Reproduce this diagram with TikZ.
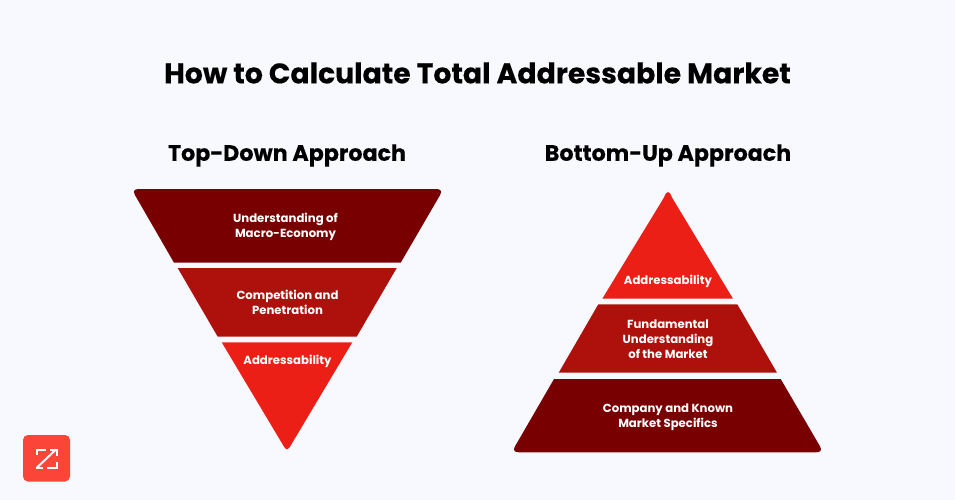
\documentclass[tikz,border=0pt]{standalone}
\usepackage{fontspec}
\setmainfont{Poppins}
\newfontfamily\headfont{Poppins}[BoldFeatures={FakeBold=0.2}]
\usetikzlibrary{positioning}
\definecolor{bgblue}{HTML}{F7F9FF}
\definecolor{darkband}{HTML}{780000}
\definecolor{midband}{HTML}{AE100B}
\definecolor{redband}{HTML}{EC1F17}
\definecolor{logored}{HTML}{FC4539}
\tikzset{
  bandlabel/.style = {text = white, align = center, font = \fontsize{11.7}{15}\selectfont\bfseries, inner sep = 0pt},
  headlabel/.style = {text = black, font = \headfont\fontsize{22.2}{27}\selectfont\bfseries, inner sep = 0pt},
  logoline/.style = {white, line width = 2pt}
}
\begin{document}
\begin{tikzpicture}[x = 1pt, y = -1pt]
    % Sfondo
    \fill[bgblue] (0,0) rectangle (955,500);
    % Titoli
    \node[headlabel, font = \headfont\fontsize{28.3}{32}\selectfont\bfseries] (title) at (477.5,73){How to Calculate Total Addressable Market};
    \node[headlabel] (topdown) at (287,155.5){Top-Down Approach};
    \node[headlabel] (bottomup) at (668,155.5){Bottom-Up Approach};
    % Imbuto a sinistra
    \fill[darkband] (139,189) -- (436,189) .. controls (441,189) and (442.3,191.2) .. (439.8,195.5) -- (400.7,262.7) -- (174,262.7) -- (135.2,195.5) .. controls (132.7,191.2) and (134,189) .. (139,189) -- cycle;
    \fill[midband] (177.7,268) -- (396.7,268) -- (356.7,336.7) -- (217.7,336.7) -- cycle;
    \fill[redband] (221.7,342.3) -- (352.3,342.3) -- (291,445) .. controls (288.3,450.7) and (285.7,450.7) .. (283,445) -- cycle;
    \node[bandlabel] (macro) at (285.5,227){Understanding of\\Macro-Economy};
    \node[bandlabel] (penetration) at (287.5,302.5){Competition and\\Penetration};
    \node[bandlabel] (addrleft) at (287.5,361){Addressability};
    % Piramide a destra
    \fill[redband] (602.3,298.7) -- (664,197.5) .. controls (666.7,190.2) and (669.3,190.2) .. (672,197.5) -- (733,298.7) -- cycle;
    \fill[midband] (598.3,304.3) -- (737.3,304.3) -- (777,372.7) -- (558.7,372.7) -- cycle;
    \fill[darkband] (554,379) -- (780.7,379) -- (819.7,445.8) .. controls (822.2,450.1) and (821,452.3) .. (816,452.3) -- (519,452.3) .. controls (514,452.3) and (512.8,450.1) .. (515.3,445.8) -- cycle;
    \node[bandlabel] (addrright) at (668,281){Addressability};
    \node[bandlabel] (fundamental) at (668,339.3){Fundamental\\Understanding\\of the Market};
    \node[bandlabel] (specifics) at (668,417){Company and Known\\Market Specifics};
    % Logo
    \fill[logored, rounded corners = 5pt] (23,435) rectangle (70,481.5);
    \draw[logoline] (36.5,455) -- (36.5,449.5) -- (46,449.5);
    \draw[logoline] (56.5,461.5) -- (56.5,467.5) -- (47,467.5);
    \draw[logoline] (37,467.5) -- (56,449.5);
    \draw[logoline] (50,449.5) -- (56.5,449.5) -- (56.5,456);
    \draw[logoline] (36,467.5) -- (43,467.5);
\end{tikzpicture}
\end{document}
